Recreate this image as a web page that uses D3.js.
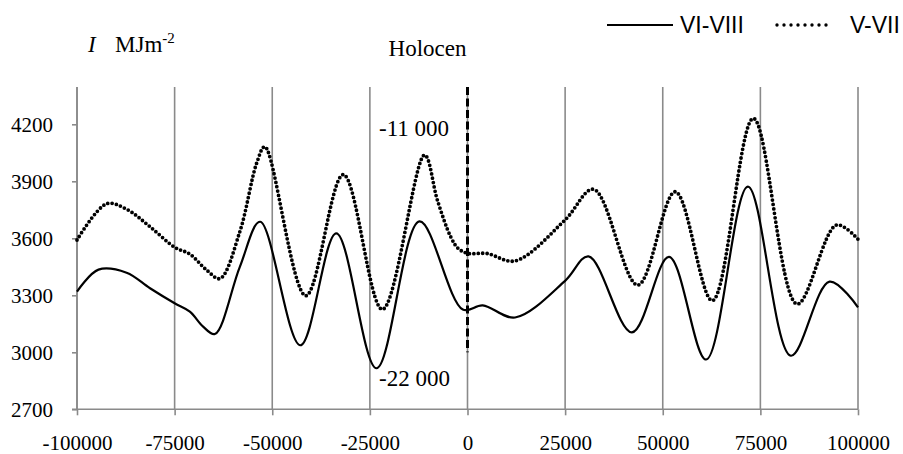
<!DOCTYPE html>
<html>
<head>
<meta charset="utf-8">
<script src="https://cdn.jsdelivr.net/npm/d3@7"></script>
<style>
  html, body { margin: 0; padding: 0; background: #fff; }
  svg { display: block; }
</style>
</head>
<body>
<svg id="chart" width="903" height="454"></svg>
<script>
// ---- data ----
const xTicks = [-100000, -75000, -50000, -25000, 0, 25000, 50000, 75000, 100000];
const yTicks = [2700, 3000, 3300, 3600, 3900, 4200];

// VI-VIII (solid)
const solidYears  = [-100000, -94500, -87300, -81300, -75000, -71100, -67700, -64700, -58300, -53100,
                     -42800, -33600, -23300, -12300, -1200, 3900, 12200, 25000, 31000, 42100,
                     51600, 61100, 71800, 82800, 92700, 100000];
const solidValues = [3320, 3435, 3419, 3337, 3258, 3214, 3135, 3096, 3450, 3687,
                     3037, 3626, 2916, 3689, 3225, 3247, 3183, 3376, 3505, 3105,
                     3502, 2962, 3872, 2982, 3372, 3237];

// V-VII (dotted)
const dottedYears  = [-100000, -92400, -87300, -81300, -75000, -71100, -66800, -63400, -58300, -54000,
                      -51900, -41400, -31800, -21800, -11000, -7700, -4300, -2400, 0, 5000,
                      12200, 25000, 32300, 43600, 53200, 62700, 73200, 84400, 94500, 100000];
const dottedValues = [3591, 3782, 3753, 3661, 3553, 3517, 3433, 3388, 3635, 3995,
                      4082, 3298, 3935, 3226, 4038, 3800, 3608, 3547, 3521, 3520,
                      3481, 3697, 3858, 3354, 3845, 3272, 4231, 3254, 3670, 3595];

const seriesNames = ["VI-VIII", "V-VII"];
const unitLabel = "MJm";
const holoceneLabel = "Holocen";
const markLabels = ["-11 000", "-22 000"];
const holoceneYear = 0;
const holoceneFloor = 3000;

// ---- layout ----
const svg = d3.select("#chart");
const plotTop = 87;
const x = d3.scaleLinear().domain([-100000, 100000]).range([77, 858]);
const y = d3.scaleLinear().domain([2700, 4200]).range([409.3, 124.3]);
const grey = "#8a8a8a";
const serif = "'Liberation Serif', 'Times New Roman', serif";
const sans = "'Liberation Sans', Arial, sans-serif";
const fmt = d => String(d);

// vertical gridlines
svg.append("g").selectAll("line").data(xTicks).join("line")
  .attr("x1", d => x(d)).attr("x2", d => x(d))
  .attr("y1", plotTop).attr("y2", y(2700))
  .attr("stroke", grey).attr("stroke-width", 1.6);

// x axis
const xAxis = svg.append("g").attr("transform", `translate(0,${y(2700)})`)
  .call(d3.axisBottom(x).tickValues(xTicks).tickFormat(fmt)
        .tickSizeInner(6).tickSizeOuter(0).tickPadding(20));
xAxis.select(".domain").attr("stroke", grey).attr("stroke-width", 1.6)
  .attr("d", `M${x(-100000) - 5},0H${x(100000)}`);
xAxis.selectAll(".tick line").attr("stroke", grey).attr("stroke-width", 1.6);
xAxis.selectAll(".tick text").attr("font-family", serif).attr("font-size", 21).attr("fill", "#000");

// y axis
const yAxis = svg.append("g").attr("transform", `translate(${x(-100000)},0)`)
  .call(d3.axisLeft(y).tickValues(yTicks).tickFormat(fmt)
        .tickSizeInner(5).tickSizeOuter(0).tickPadding(19));
yAxis.select(".domain").attr("stroke", grey).attr("stroke-width", 1.6)
  .attr("d", `M0,${plotTop}V${y(2700)}`);
yAxis.selectAll(".tick line").attr("stroke", grey).attr("stroke-width", 1.6);
yAxis.selectAll(".tick text").attr("font-family", serif).attr("font-size", 21).attr("fill", "#000");

// Holocene dashed marker
svg.append("line")
  .attr("x1", x(holoceneYear)).attr("x2", x(holoceneYear))
  .attr("y1", plotTop).attr("y2", y(holoceneFloor))
  .attr("stroke", "#000").attr("stroke-width", 3).attr("stroke-dasharray", "8,3.5");

// series
const line = d3.line().x(d => x(d[0])).y(d => y(d[1])).curve(d3.curveCatmullRom.alpha(0.5));
const solidData = d3.zip(solidYears, solidValues);
const dottedData = d3.zip(dottedYears, dottedValues);

svg.append("path").datum(solidData).attr("d", line)
  .attr("fill", "none").attr("stroke", "#000").attr("stroke-width", 2.2);
svg.append("path").datum(dottedData).attr("d", line)
  .attr("fill", "none").attr("stroke", "#000").attr("stroke-width", 3.8)
  .attr("stroke-linecap", "round").attr("stroke-dasharray", "0,4.4");

// labels
const t1 = svg.append("text").attr("x", 88).attr("y", 52)
  .attr("font-family", serif).attr("font-size", 23).attr("fill", "#000");
t1.append("tspan").attr("font-style", "italic").text("I");
t1.append("tspan").attr("x", 115).text(unitLabel);
t1.append("tspan").attr("font-size", 15).attr("dy", -9).text("-2");

svg.append("text").attr("x", 427.5).attr("y", 56).attr("text-anchor", "middle")
  .attr("font-family", serif).attr("font-size", 23).text(holoceneLabel);
svg.append("text").attr("x", 379).attr("y", 136)
  .attr("font-family", serif).attr("font-size", 23).text(markLabels[0]);
svg.append("text").attr("x", 379).attr("y", 386)
  .attr("font-family", serif).attr("font-size", 23).text(markLabels[1]);

// legend
const lg = svg.append("g");
lg.append("line").attr("x1", 607).attr("x2", 673).attr("y1", 25).attr("y2", 25)
  .attr("stroke", "#000").attr("stroke-width", 2.2);
lg.append("text").attr("x", 680).attr("y", 33).attr("font-family", sans).attr("font-size", 23)
  .text(seriesNames[0]);
lg.append("line").attr("x1", 777).attr("x2", 832).attr("y1", 25).attr("y2", 25)
  .attr("stroke", "#000").attr("stroke-width", 3.4)
  .attr("stroke-linecap", "round").attr("stroke-dasharray", "0,7");
lg.append("text").attr("x", 850).attr("y", 33).attr("font-family", sans).attr("font-size", 23)
  .text(seriesNames[1]);
</script>
</body>
</html>
